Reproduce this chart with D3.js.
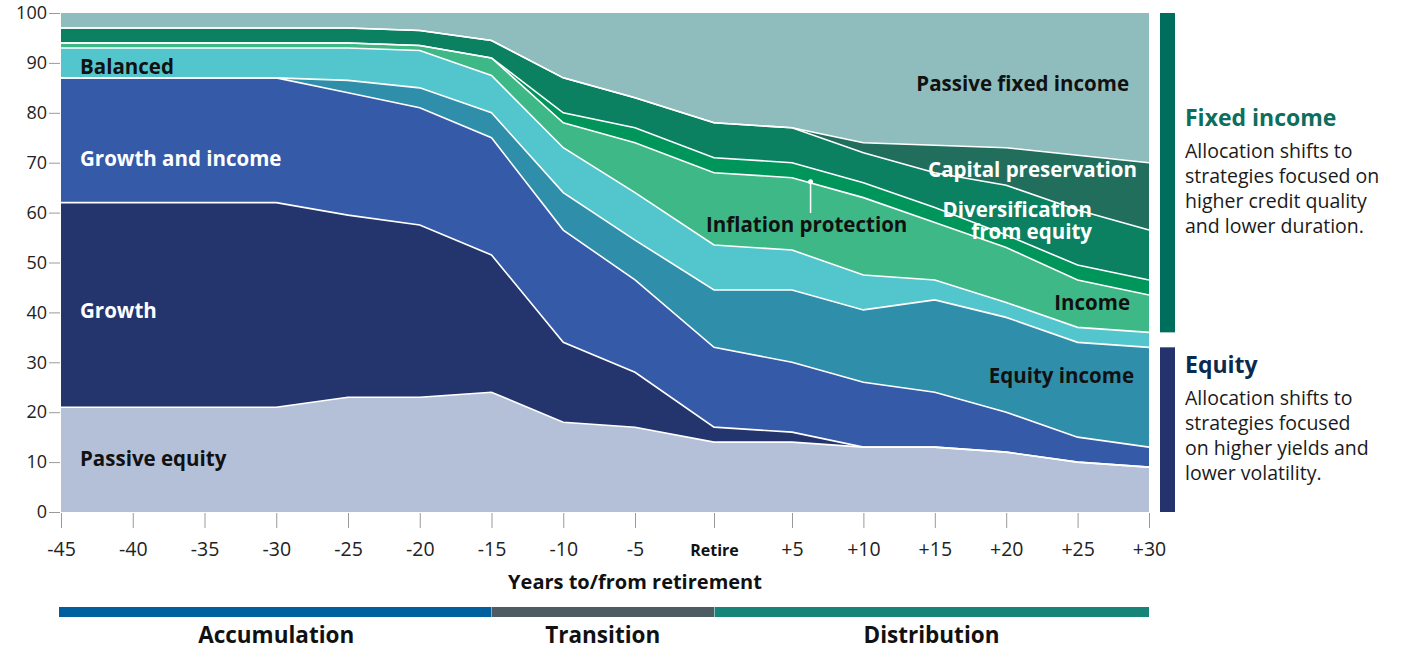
<!DOCTYPE html>
<head>
   <meta charset="utf-8">
   <script src="https://d3js.org/d3.v7.min.js"></script>
   <style>
      body { margin: 0; background: #ffffff; }
      text { font-family: "Open Sans", sans-serif; }
      .axis text { font-size: 18px; fill: #222222; }
      .xAxis text { font-size: 19.5px; }
      .axis line { stroke: #9a9a9a; }
      .axis path.domain { display: none; }
      .xAxis text.retire { font-size: 16px; font-weight: 700; fill: #111111; }
      text.label { font-size: 20.5px; font-weight: 700; }
      text.axisTitle { font-size: 20px; font-weight: 700; fill: #111111; }
      text.phase { font-size: 22.5px; font-weight: 700; fill: #111111; }
      text.sideTitle { font-size: 23px; font-weight: 700; }
      text.sideBody { font-size: 19.5px; fill: #1a1a1a; }
   </style>
</head>

<body>
   <script>
      // years to/from retirement
      const years = [-45, -40, -35, -30, -25, -20, -15, -10, -5, 0, 5, 10, 15, 20, 25, 30];

      // allocation (%) per strategy, bottom to top
      const passiveEquity      = [21, 21, 21, 21, 23, 23, 24, 18, 17, 14, 14, 13, 13, 12, 10, 9];
      const growth             = [41, 41, 41, 41, 36.5, 34.5, 27.5, 16, 11, 3, 2, 0, 0, 0, 0, 0];
      const growthAndIncome    = [25, 25, 25, 25, 24.5, 23.5, 23.5, 22.5, 18.5, 16, 14, 13, 11, 8, 5, 4];
      const equityIncome       = [0, 0, 0, 0, 2.5, 4, 5, 7.5, 8, 11.5, 14.5, 14.5, 18.5, 19, 19, 20];
      const balanced           = [6, 6, 6, 6, 6.5, 7.5, 7.5, 9, 9.5, 9, 8, 7, 4, 3, 3, 3];
      const income             = [1, 1, 1, 1, 1, 1, 3.5, 5, 10, 14.5, 14.5, 15.5, 11.5, 11, 9.5, 7.5];
      const inflationProt      = [0, 0, 0, 0, 0, 0, 0, 2, 3, 3, 3, 3, 3, 2.5, 3, 3];
      const diversification    = [3, 3, 3, 3, 3, 3, 3.5, 7, 6, 7, 7, 6, 7, 10, 11, 10];
      const capitalPreserv     = [0, 0, 0, 0, 0, 0, 0, 0, 0, 0, 0, 2, 5.5, 7.5, 11, 13.5];
      const passiveFixedIncome = [3, 3, 3, 3, 3, 3.5, 5.5, 13, 17, 22, 23, 26, 26.5, 27, 28.5, 30];

      const seriesKeys = ['passiveEquity', 'growth', 'growthAndIncome', 'equityIncome', 'balanced',
         'income', 'inflationProt', 'diversification', 'capitalPreserv', 'passiveFixedIncome'];
      const seriesValues = [passiveEquity, growth, growthAndIncome, equityIncome, balanced,
         income, inflationProt, diversification, capitalPreserv, passiveFixedIncome];
      const seriesColours = ['#b3c0d7', '#24346d', '#345aa8', '#2f8ea9', '#53c6cd',
         '#3db886', '#00955a', '#0b8161', '#226e5d', '#8fbdbd'];

      const yTicks = [0, 10, 20, 30, 40, 50, 60, 70, 80, 90, 100];

      // life phases
      const phaseNames = ['Accumulation', 'Transition', 'Distribution'];
      const phaseStart = [-45, -15, 0];
      const phaseEnd = [-15, 0, 30];
      const phaseColours = ['#005f9e', '#4d5b63', '#17847a'];

      const width = 1411;
      const height = 650;

      const svg = d3.select('body').append('svg')
         .attr('width', width)
         .attr('height', height);

      // the Retire step is drawn a bit wider than the others
      const x = d3.scaleLinear()
         .domain([-45, -5, 0, 5, 30])
         .range([61, 635, 714, 792, 1149]);

      const y = d3.scaleLinear()
         .domain([0, 100])
         .range([512, 13]);

      const table = years.map((yr, i) => {
         const row = { year: yr };
         seriesKeys.forEach((k, j) => row[k] = seriesValues[j][i]);
         return row;
      });

      const stacked = d3.stack().keys(seriesKeys)(table);

      const area = d3.area()
         .x(d => x(d.data.year))
         .y0(d => y(d[0]))
         .y1(d => y(d[1]));

      svg.append('g')
         .selectAll('path')
         .data(stacked)
         .enter()
         .append('path')
         .attr('d', area)
         .style('fill', (d, i) => seriesColours[i]);

      // white separators between layers
      const topLine = d3.line()
         .x(d => x(d.data.year))
         .y(d => y(d[1]));

      svg.append('g')
         .selectAll('path')
         .data(stacked.slice(0, -1))
         .enter()
         .append('path')
         .attr('d', topLine)
         .style('fill', 'none')
         .style('stroke', '#ffffff')
         .style('stroke-width', 1.6);

      // axes
      svg.append('g')
         .attr('class', 'axis yAxis')
         .attr('transform', 'translate(60,0)')
         .call(d3.axisLeft(y).tickValues(yTicks).tickSize(11).tickPadding(2));

      const xAxis = svg.append('g')
         .attr('class', 'axis xAxis')
         .attr('transform', `translate(0,${y(0) + 1})`)
         .call(d3.axisBottom(x).tickValues(years).tickSize(15)
            .tickFormat(d => d < 0 ? String(d) : (d == 0 ? 'Retire' : '+' + d)));

      xAxis.selectAll('text')
         .attr('dy', 0)
         .attr('y', 43)
         .classed('retire', d => d == 0);

      svg.append('text')
         .attr('class', 'axisTitle')
         .attr('x', 635)
         .attr('y', 589)
         .style('text-anchor', 'middle')
         .text('Years to/from retirement');

      // phase bars
      phaseNames.forEach((name, i) => {
         svg.append('rect')
            .attr('x', x(phaseStart[i]) + (i == 0 ? -2 : 0.5))
            .attr('y', 607)
            .attr('width', x(phaseEnd[i]) - x(phaseStart[i]) - (i == 0 ? -2 : 0.5))
            .attr('height', 10)
            .style('fill', phaseColours[i]);
         svg.append('text')
            .attr('class', 'phase')
            .attr('x', (x(phaseStart[i]) + x(phaseEnd[i])) / 2)
            .attr('y', 643)
            .style('text-anchor', 'middle')
            .text(name);
      });

      // layer labels
      const labels = [
         { t: 'Passive equity', x: 80, y: 466, a: 'start', c: '#111111' },
         { t: 'Growth', x: 80, y: 318, a: 'start', c: '#ffffff' },
         { t: 'Growth and income', x: 80, y: 166, a: 'start', c: '#ffffff' },
         { t: 'Balanced', x: 80, y: 74, a: 'start', c: '#111111' },
         { t: 'Passive fixed income', x: 1129, y: 91, a: 'end', c: '#111111' },
         { t: 'Capital preservation', x: 1137, y: 177, a: 'end', c: '#ffffff' },
         { t: 'Diversification', x: 1092, y: 217, a: 'end', c: '#ffffff' },
         { t: 'from equity', x: 1092, y: 239, a: 'end', c: '#ffffff' },
         { t: 'Inflation protection', x: 706, y: 232, a: 'start', c: '#111111' },
         { t: 'Income', x: 1130, y: 310, a: 'end', c: '#111111' },
         { t: 'Equity income', x: 1134, y: 383, a: 'end', c: '#111111' }
      ];

      svg.selectAll('text.label')
         .data(labels)
         .enter()
         .append('text')
         .attr('class', 'label')
         .attr('x', d => d.x)
         .attr('y', d => d.y)
         .style('text-anchor', d => d.a)
         .style('fill', d => d.c)
         .text(d => d.t);

      // leader for inflation protection
      const leadX = x(6.3);
      svg.append('line')
         .attr('x1', leadX).attr('x2', leadX)
         .attr('y1', y(66.2)).attr('y2', 213)
         .style('stroke', '#ffffff')
         .style('stroke-width', 1.5);
      svg.append('circle')
         .attr('cx', leadX)
         .attr('cy', y(66.2))
         .attr('r', 2.5)
         .style('fill', '#ffffff');

      // right-hand brackets
      const last = years.length - 1;
      const fixedBottom = stacked[4][last][1];
      const equityTop = stacked[3][last][1];

      svg.append('rect')
         .attr('x', 1160).attr('width', 15)
         .attr('y', y(100)).attr('height', y(fixedBottom) - y(100))
         .style('fill', '#006e5c');
      svg.append('rect')
         .attr('x', 1160).attr('width', 15)
         .attr('y', y(equityTop)).attr('height', y(0) - y(equityTop))
         .style('fill', '#24336c');

      const sideBlocks = [
         { title: 'Fixed income', colour: '#0d6e5c', y: 126, lines: ['Allocation shifts to', 'strategies focused on', 'higher credit quality', 'and lower duration.'] },
         { title: 'Equity', colour: '#0b2a50', y: 373, lines: ['Allocation shifts to', 'strategies focused', 'on higher yields and', 'lower volatility.'] }
      ];

      sideBlocks.forEach(b => {
         svg.append('text')
            .attr('class', 'sideTitle')
            .attr('x', 1185)
            .attr('y', b.y)
            .style('fill', b.colour)
            .text(b.title);
         b.lines.forEach((ln, i) => {
            svg.append('text')
               .attr('class', 'sideBody')
               .attr('x', 1185)
               .attr('y', b.y + 32 + i * 25)
               .text(ln);
         });
      });
   </script>
</body>
